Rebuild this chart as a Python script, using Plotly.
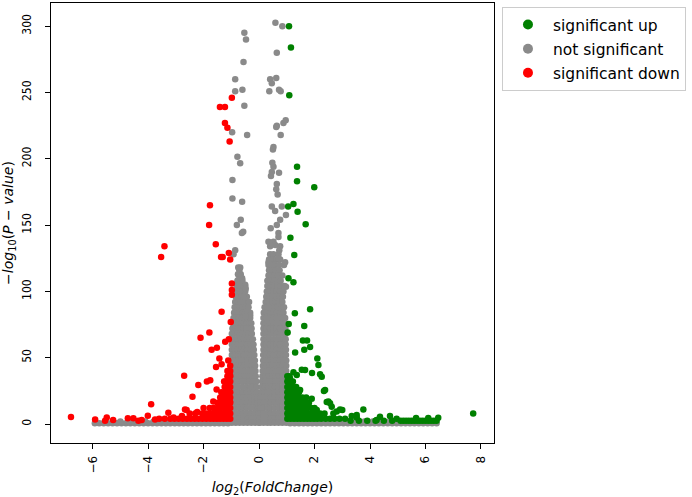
import plotly.graph_objects as go

# ---- significant up (green), scattered points
up_x = [1.08, 1.15, 1.09, 1.37, 1.37, 1.99, 1.24, 1.05, 1.39, 1.68, 1.13, 1.27, 1.06, 1.24,
        1.29, 1.84, 1.07, 1.63, 1.03, 1.30, 1.58, 1.73, 1.63, 1.84, 2.10, 2.14, 1.54, 2.20,
        1.91, 2.34, 2.50, 1.66, 1.24, 1.36, 1.12, 1.48, 1.12, 1.90, 2.44, 2.62, 1.36, 1.72,
        2.08, 1.30, 2.80, 2.56, 2.92, 2.68, 3.76, 3.34, 3.52, 4.36, 4.72, 4.24, 4.96, 5.66,
        6.10, 6.46, 7.72, 2.26, 2.38, 3.00, 3.52]
up_y = [300, 284, 248, 194, 183, 178.5, 166, 164, 160, 150.6, 140.5, 127.5, 110, 107,
        83.5, 86.5, 75.4, 74, 69, 54, 63, 63, 56, 58, 49.5, 44.5, 41, 37.5,
        38.5, 25, 17, 40.7, 39, 37, 34, 25.6, 25.6, 19, 16.6, 13, 16.6, 13,
        10.5, 8, 9.5, 15.6, 11, 8, 11, 6, 5, 5.5, 6, 3, 4, 4.5,
        4.5, 4.8, 8, 35.7, 25.6, 10.5, 6.8]

# green dense cloud near the threshold, row by row
up_rows_y = [36, 32, 28, 24, 20, 16, 12, 8, 4, 2.5]
up_rows_x = [
    [1.02, 1.10],
    [1.02, 1.12, 1.22],
    [1.02, 1.12, 1.22, 1.34],
    [1.02, 1.12, 1.22, 1.32, 1.44],
    [1.02, 1.12, 1.22, 1.32, 1.42, 1.56, 1.70],
    [1.02, 1.12, 1.22, 1.32, 1.42, 1.54, 1.66, 1.80],
    [1.02, 1.12, 1.22, 1.32, 1.42, 1.52, 1.62, 1.74, 1.88, 2.00],
    [1.02, 1.12, 1.22, 1.32, 1.44, 1.56, 1.68, 1.80, 1.92, 2.04, 2.20, 2.36],
    [1.02, 1.14, 1.26, 1.38, 1.50, 1.62, 1.74, 1.86, 1.98, 2.10, 2.24, 2.40, 2.56, 2.72,
     2.90, 3.10],
    [3.30, 3.60, 3.90, 4.20, 4.50, 4.80, 5.10, 5.20, 5.30, 5.40, 5.50, 5.60, 5.70, 5.80,
     5.90, 6.00, 6.10, 6.20, 6.30, 6.40],
]

# ---- significant down (red)
down_x = [-0.98, -1.41, -1.23, -1.23, -1.14, -1.06, -1.77, -1.80, -1.56, -1.31, -1.09, -1.04,
          -3.41, -3.53, -1.37, -0.98, -0.98, -0.98, -1.35, -1.02, -2.11, -1.79, -1.71, -1.52,
          -1.22, -1.09, -2.70, -2.19, -1.88, -1.76, -2.40, -1.55, -1.43, -1.35, -1.11, -1.05,
          -1.23, -1.53, -1.29, -1.65, -2.00, -2.67, -2.23, -1.05, -1.17, -1.53, -3.89, -6.78,
          -5.91, -5.49, -5.55, -5.26, -4.73, -4.53, -4.23, -4.01, -4.35, -3.75, -3.27, -3.08,
          -2.78, -2.61]
down_y = [246, 239, 239, 227, 223.5, 213, 165, 150, 135.5, 126, 129, 124,
          134, 126, 126, 106, 101, 97.5, 84.7, 77, 65, 69, 56, 57.6,
          62, 64, 36.5, 29.4, 32, 33, 20.6, 43, 49.5, 45, 48, 37,
          32, 26, 22, 17, 12, 11, 9, 17, 12, 9, 15, 5.4,
          3.5, 5, 2.5, 3, 4.3, 4.3, 3, 6.3, 2.5, 3.5, 8.5, 5,
          6, 10.6]

down_rows_y = [44, 40, 36, 32, 28, 24, 20, 16, 12, 8, 4]
down_rows_x = [
    [-1.04],
    [-1.04, -1.14],
    [-1.04, -1.14],
    [-1.04, -1.14, -1.26],
    [-1.04, -1.14, -1.24],
    [-1.04, -1.14, -1.24, -1.36],
    [-1.04, -1.14, -1.24, -1.40],
    [-1.04, -1.14, -1.26, -1.38, -1.50],
    [-1.04, -1.14, -1.26, -1.38, -1.50, -1.64, -1.78],
    [-1.04, -1.14, -1.26, -1.38, -1.50, -1.62, -1.76, -1.90, -2.05, -2.30, -2.50],
    [-1.04, -1.16, -1.28, -1.40, -1.52, -1.64, -1.76, -1.90, -2.04, -2.18, -2.32, -2.46,
     -2.60, -2.75, -2.90, -3.05, -3.20, -3.40, -3.60],
]

# ---- not significant (grey): scattered points above the two lobes
ns_x = [0.59, 0.84, -0.53, -0.47, 0.64, -0.56, -0.86, 0.40, 0.62, 0.46, -0.86, -0.60, 0.37,
        0.72, 0.78, -0.53, -0.97, -0.43, 0.64, 0.88, 0.96, 0.62, 0.78, 0.52, 0.50, -0.78,
        -0.68, 0.48, 0.52, 0.46, 0.72, 0.43, -0.96, 0.64, 0.62, 0.67, -0.96, -0.61, 0.46,
        0.82, 0.58, 0.97, -0.66, -0.80, -0.57, -0.62, 0.76, 0.64, 0.42, 0.70, 0.70, 0.34,
        0.52, 0.76, 0.40, 0.58, 0.73, -0.86, -0.92, 0.34, 0.70, 0.94, -0.71, -0.68, -0.75,
        -0.61, -0.50, -0.48, -0.72, 0.97, -0.57, -0.32, -0.50]
ns_y = [302.6, 300, 295, 290, 280, 273, 260, 260, 261, 257, 251, 252, 251,
        252, 251, 240, 220, 218, 225, 227, 229, 224, 218, 209, 207, 201.6,
        196.6, 197, 194, 190, 189.5, 187, 184, 181, 177, 173, 170, 167.6, 164,
        164, 160.6, 157.6, 154, 150, 145, 144, 154, 150, 147.6, 144, 141, 137.5,
        137.5, 134, 134, 135, 131, 131, 128, 122, 125, 122, 116, 112, 108.6,
        110, 105, 102, 105, 103.5, 96, 82, 81]

# grey left lobe (negative fold change), row by row
ns_left_rows_y = [118, 113, 108, 104, 100, 96, 92, 88, 84, 80, 76, 72, 68, 64, 60, 56, 52,
                  48, 44, 40, 36, 32, 28, 24, 20, 16, 12, 8, 4, 1]
ns_left_rows_x = [
    [-0.75, -0.68],
    [-0.76, -0.66],
    [-0.78, -0.68, -0.60],
    [-0.80, -0.70, -0.60, -0.50],
    [-0.82, -0.72, -0.62, -0.50],
    [-0.84, -0.74, -0.64, -0.54, -0.44],
    [-0.86, -0.76, -0.66, -0.56, -0.46, -0.36],
    [-0.88, -0.78, -0.68, -0.58, -0.48, -0.38],
    [-0.90, -0.80, -0.70, -0.60, -0.50, -0.40, -0.32],
    [-0.92, -0.82, -0.72, -0.62, -0.52, -0.42, -0.32],
    [-0.94, -0.84, -0.74, -0.64, -0.54, -0.44, -0.34, -0.28],
    [-0.96, -0.86, -0.76, -0.66, -0.56, -0.46, -0.36, -0.27],
    [-0.98, -0.88, -0.78, -0.68, -0.58, -0.48, -0.38, -0.26],
    [-0.98, -0.87, -0.76, -0.65, -0.54, -0.43, -0.32, -0.22],
    [-0.98, -0.87, -0.76, -0.65, -0.54, -0.43, -0.32, -0.20],
    [-0.98, -0.87, -0.76, -0.65, -0.54, -0.43, -0.30, -0.19],
    [-0.98, -0.87, -0.76, -0.65, -0.54, -0.43, -0.30, -0.17],
    [-0.98, -0.87, -0.76, -0.65, -0.54, -0.42, -0.28, -0.15],
    [-0.98, -0.87, -0.76, -0.65, -0.54, -0.40, -0.26, -0.14],
    [-0.98, -0.87, -0.76, -0.65, -0.52, -0.38, -0.25, -0.13],
    [-0.98, -0.87, -0.76, -0.64, -0.50, -0.36, -0.24, -0.12],
    [-0.98, -0.86, -0.74, -0.62, -0.48, -0.34, -0.22, -0.10],
    [-0.98, -0.86, -0.74, -0.60, -0.46, -0.32, -0.20, -0.09],
    [-0.98, -0.86, -0.72, -0.58, -0.44, -0.30, -0.18, -0.08],
    [-0.98, -0.86, -0.72, -0.58, -0.44, -0.30, -0.17, -0.06],
    [-0.98, -0.86, -0.72, -0.58, -0.44, -0.30, -0.16, -0.05],
    [-0.98, -0.86, -0.72, -0.58, -0.44, -0.30, -0.16, -0.04],
    [-0.98, -0.86, -0.72, -0.58, -0.44, -0.30, -0.16, -0.02],
    [-0.98, -0.84, -0.70, -0.56, -0.42, -0.28, -0.14, 0.00],
    [-0.98, -0.84, -0.70, -0.56, -0.42, -0.28, -0.14, 0.00],
]

# grey right lobe (positive fold change)
ns_right_rows_y = [128, 124, 120, 116, 112, 108, 104, 100, 96, 92, 88, 84, 80, 76, 72, 68,
                   64, 60, 56, 52, 48, 44, 40, 36, 32, 28, 24, 20, 16, 12, 8, 4, 1]
ns_right_rows_x = [
    [0.40, 0.52, 0.70],
    [0.36, 0.50, 0.64, 0.76],
    [0.34, 0.46, 0.58, 0.72, 0.90],
    [0.36, 0.48, 0.60, 0.74],
    [0.34, 0.44, 0.56, 0.68, 0.84],
    [0.30, 0.42, 0.54, 0.66, 0.78],
    [0.30, 0.42, 0.54, 0.66, 0.78, 0.92],
    [0.28, 0.40, 0.52, 0.64, 0.76, 0.88],
    [0.26, 0.38, 0.50, 0.62, 0.74, 0.86],
    [0.24, 0.36, 0.48, 0.60, 0.72, 0.84],
    [0.20, 0.32, 0.44, 0.56, 0.68, 0.80, 0.90],
    [0.17, 0.28, 0.40, 0.52, 0.64, 0.76, 0.88],
    [0.16, 0.28, 0.40, 0.52, 0.64, 0.76, 0.88, 0.94],
    [0.16, 0.28, 0.40, 0.52, 0.64, 0.76, 0.88, 0.94],
    [0.16, 0.28, 0.40, 0.52, 0.64, 0.76, 0.88, 0.95],
    [0.16, 0.28, 0.40, 0.52, 0.64, 0.76, 0.88, 0.96],
    [0.16, 0.28, 0.40, 0.52, 0.64, 0.76, 0.88, 0.96],
    [0.16, 0.28, 0.40, 0.52, 0.64, 0.76, 0.88, 0.96],
    [0.16, 0.28, 0.40, 0.52, 0.64, 0.76, 0.88, 0.97],
    [0.15, 0.27, 0.39, 0.51, 0.63, 0.75, 0.87, 0.97],
    [0.15, 0.27, 0.39, 0.51, 0.63, 0.75, 0.87, 0.98],
    [0.14, 0.26, 0.38, 0.50, 0.62, 0.74, 0.86, 0.98],
    [0.13, 0.25, 0.37, 0.49, 0.61, 0.73, 0.85, 0.98],
    [0.12, 0.24, 0.36, 0.48, 0.60, 0.72, 0.85, 0.98],
    [0.11, 0.23, 0.35, 0.47, 0.59, 0.71, 0.84, 0.98],
    [0.09, 0.21, 0.33, 0.45, 0.57, 0.70, 0.84, 0.98],
    [0.08, 0.20, 0.32, 0.44, 0.56, 0.70, 0.84, 0.98],
    [0.06, 0.18, 0.30, 0.42, 0.56, 0.70, 0.84, 0.98],
    [0.05, 0.17, 0.30, 0.42, 0.56, 0.70, 0.84, 0.98],
    [0.04, 0.16, 0.30, 0.42, 0.56, 0.70, 0.84, 0.98],
    [0.03, 0.16, 0.30, 0.42, 0.56, 0.70, 0.84, 0.98],
    [0.02, 0.16, 0.30, 0.42, 0.56, 0.70, 0.84, 0.98],
    [0.02, 0.16, 0.30, 0.42, 0.56, 0.70, 0.84, 0.98],
]

# grey band of low p-values along the bottom
ns_band_x = [-5.92, -5.76, -5.60, -5.44, -5.28, -5.12, -4.96, -4.80, -4.64, -4.48, -4.32,
             -4.16, -4.00, -3.84, -3.68, -3.52, -3.36, -3.20, -3.04, -2.88, -2.72, -2.56,
             -2.40, -2.24, -2.08, -1.92, -1.76, -1.60, -1.44, -1.28, -1.12,
             1.12, 1.28, 1.44, 1.60, 1.76, 1.92, 2.08, 2.24, 2.40, 2.56, 2.72, 2.88, 3.04,
             3.20, 3.36, 3.52, 3.68, 3.84, 4.00, 4.16, 4.32, 4.48, 4.64, 4.80, 4.96, 5.12,
             5.28, 5.44, 5.60, 5.76, 5.92, 6.08, 6.24, 6.40]
ns_band2_x = [-5.00, -4.70, -4.40, -4.10, -3.80, -3.50, -3.20, -2.90, -2.60, -2.30, -2.00,
              -1.70, -1.40, 1.40, 1.70, 2.00, 2.30, 2.60, 2.90, 3.20, 3.50, 3.80, 4.10,
              4.40, 4.70, 5.00]
ns_band_y = 0.6
ns_band2_y = 1.9

x_ticks = [-6, -4, -2, 0, 2, 4, 6, 8]
y_ticks = [0, 50, 100, 150, 200, 250, 300]

GREEN = '#008000'
GREY = '#8a8a8a'
RED = '#ff0000'


def expand(rows_y, rows_x):
    xs, ys = [], []
    for yv, row in zip(rows_y, rows_x):
        for xv in row:
            xs.append(xv)
            ys.append(yv)
    return xs, ys


lx, ly = expand(ns_left_rows_y, ns_left_rows_x)
rx, ry = expand(ns_right_rows_y, ns_right_rows_x)
grey_x = ns_band_x + ns_band2_x + lx + rx + ns_x
grey_y = [ns_band_y] * len(ns_band_x) + [ns_band2_y] * len(ns_band2_x) + ly + ry + ns_y

ux, uy = expand(up_rows_y, up_rows_x)
green_x = ux + up_x
green_y = uy + up_y

dx, dy = expand(down_rows_y, down_rows_x)
red_x = dx + down_x
red_y = dy + down_y

fig = go.Figure()

# legend entries only (bigger dots, in the original order)
for name, col in [('significant up', GREEN), ('not significant', GREY), ('significant down', RED)]:
    fig.add_trace(go.Scatter(x=[None], y=[None], mode='markers', name=name,
                             legendgroup=name, marker=dict(color=col, size=10)))

fig.add_trace(go.Scatter(x=grey_x, y=grey_y, mode='markers', showlegend=False,
                         marker=dict(color=GREY, size=6.5, line=dict(width=0))))
fig.add_trace(go.Scatter(x=red_x, y=red_y, mode='markers', showlegend=False,
                         marker=dict(color=RED, size=6.5, line=dict(width=0))))
fig.add_trace(go.Scatter(x=green_x, y=green_y, mode='markers', showlegend=False,
                         marker=dict(color=GREEN, size=6.5, line=dict(width=0))))

axis_common = dict(showline=True, linecolor='black', linewidth=1.2, mirror=True,
                   ticks='outside', ticklen=5, tickwidth=1.2, tickcolor='black',
                   showgrid=False, zeroline=False, tickangle=-90, automargin=False)

fig.update_layout(
    width=692, height=497,
    margin=dict(l=51, r=198, t=3, b=54),
    paper_bgcolor='white', plot_bgcolor='white',
    font=dict(family='DejaVu Sans', color='black'),
    xaxis=dict(range=[-7.5, 8.47], tickvals=x_ticks,
               ticktext=[str(v).replace('-', '\u2212') for v in x_ticks],
               tickfont=dict(size=12), ticklabelstandoff=2,
               title=dict(text='<i>log</i><sub>2</sub>(<i>FoldChange</i>)',
                          font=dict(size=14), standoff=14),
               **axis_common),
    yaxis=dict(range=[-14.3, 317.5], tickvals=y_ticks,
               tickfont=dict(size=12, family='Liberation Sans Narrow, DejaVu Sans Condensed, DejaVu Sans'),
               ticklabelstandoff=9,
               title=dict(text='<i>\u2212log</i><sub>10</sub>(<i>P \u2212 value</i>)',
                          font=dict(size=14), standoff=4),
               **axis_common),
    legend=dict(x=1.018, y=0.991, xanchor='left', yanchor='top',
                font=dict(size=15.5), bordercolor='#cccccc', borderwidth=1,
                bgcolor='white', tracegroupgap=1, itemwidth=40),
)

# the page body has an 8px default margin; remove it so the figure sits at the top-left corner
fig.write_html("out.html", config={'displayModeBar': False},
               post_script="document.body.style.margin='0px';")
